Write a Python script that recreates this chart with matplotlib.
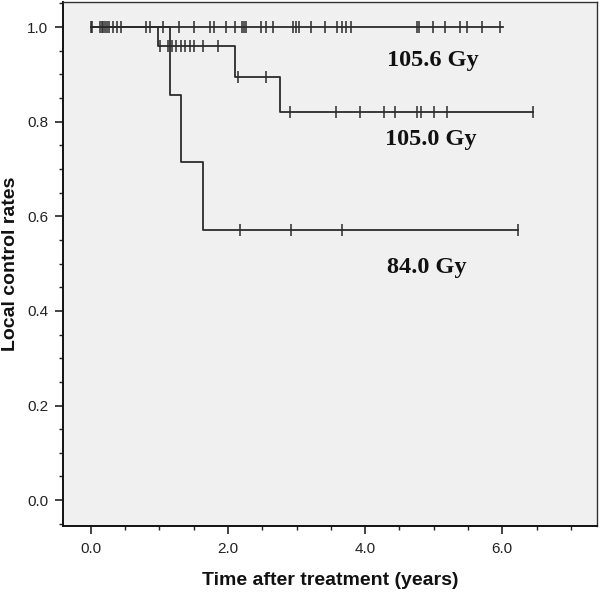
import numpy as np
import matplotlib
matplotlib.use("Agg")
import matplotlib.pyplot as plt
from matplotlib.ticker import MultipleLocator, FormatStrFormatter

# Kaplan-Meier steps: (time in years, local control rate)
grp_labels = ["105.6 Gy", "105.0 Gy", "84.0 Gy"]

t_1056 = [0.0, 6.01]
s_1056 = [1.0, 1.0]
c_1056 = [0.0, 0.02, 0.14, 0.16, 0.185, 0.21, 0.23, 0.26, 0.33, 0.38, 0.44,
          0.80, 0.87, 1.06, 1.28, 1.50, 1.74, 1.80, 1.97, 2.10, 2.20, 2.23,
          2.26, 2.48, 2.55, 2.66, 2.95, 2.99, 3.03, 3.21, 3.41, 3.59, 3.66,
          3.72, 3.80, 4.75, 4.78, 4.99, 5.17, 5.39, 5.48, 5.71, 5.96]

t_1050 = [0.0, 0.98, 2.10, 2.76, 6.45]
s_1050 = [1.0, 0.96, 0.895, 0.821, 0.821]
c_1050 = [1.01, 1.12, 1.18, 1.25, 1.32, 1.37, 1.44, 1.50, 1.64, 1.86,
          2.15, 2.56,
          2.91, 3.58, 3.92, 4.27, 4.44, 4.75, 4.81, 5.00, 5.19, 6.45]

t_840 = [0.0, 1.16, 1.31, 1.63, 6.23]
s_840 = [1.0, 0.857, 0.714, 0.571, 0.571]
c_840 = [2.17, 2.92, 3.67, 6.23]

groups = [(t_1056, s_1056, c_1056), (t_1050, s_1050, c_1050), (t_840, s_840, c_840)]
label_pos = [(4.98, 0.93), (4.96, 0.762), (4.9, 0.492)]

line_col = "#2b2b2b"

fig = plt.figure(figsize=(6.0, 5.92), dpi=100)
ax = fig.add_axes([0.1055, 0.112, 0.89, 0.8846])
ax.set_facecolor("#f0f0f0")

for (t, s, c) in groups:
    ax.step(t, s, where="post", color=line_col, lw=1.3, zorder=3)
    t = np.asarray(t)
    s = np.asarray(s)
    idx = np.searchsorted(t, c, side="right") - 1
    ax.plot(c, s[idx], ls="none", marker="|", ms=8, mew=1.1,
            color=line_col, zorder=4)

for lab, (x, y) in zip(grp_labels, label_pos):
    ax.text(x, y, lab, ha="center", va="center", fontsize=17.5,
            fontweight="bold", family="Liberation Serif", color="#111111")

ax.set_xlim(-0.40, 7.385)
ax.set_ylim(-0.054, 1.053)
ax.xaxis.set_major_locator(MultipleLocator(2.0))
ax.xaxis.set_minor_locator(MultipleLocator(0.5))
ax.yaxis.set_major_locator(MultipleLocator(0.2))
ax.yaxis.set_minor_locator(MultipleLocator(0.05))
ax.xaxis.set_major_formatter(FormatStrFormatter("%.1f"))
ax.yaxis.set_major_formatter(FormatStrFormatter("%.1f"))

ax.tick_params(which="major", length=6, width=1.2, color="#222222",
               labelsize=11, labelcolor="#222222", pad=5)
ax.tick_params(which="minor", length=3, width=1.0, color="#222222")
ax.tick_params(axis="x", which="major", pad=6)
for lbl in ax.get_xticklabels() + ax.get_yticklabels():
    lbl.set_family("Liberation Sans")

for side in ["left", "bottom"]:
    ax.spines[side].set_linewidth(1.4)
    ax.spines[side].set_color("#111111")
for side in ["top", "right"]:
    ax.spines[side].set_linewidth(1.0)
    ax.spines[side].set_color("#333333")

ax.set_xlabel("Time after treatment (years)", fontsize=14, fontweight="bold",
              family="Liberation Sans", labelpad=11, color="#111111")
ax.set_ylabel("Local control rates", fontsize=14, fontweight="bold",
              family="Liberation Sans", labelpad=6, color="#111111")

fig.savefig("out.png", dpi=100)
